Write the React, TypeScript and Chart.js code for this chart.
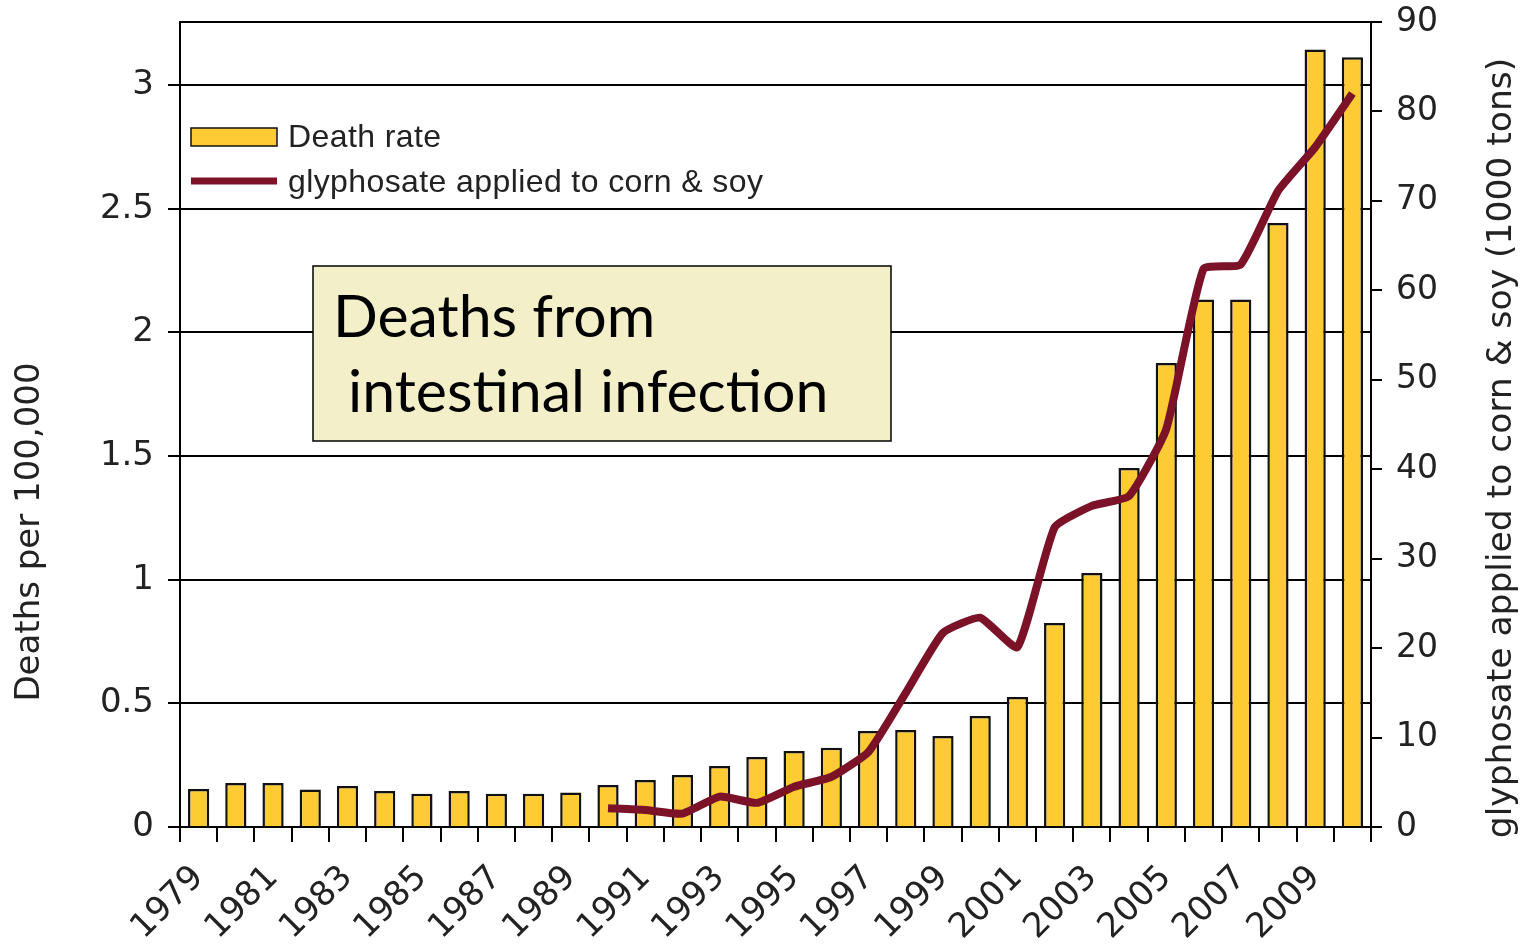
import React, { useEffect, useRef } from 'react';
import { Chart, registerables } from 'chart.js';

Chart.register(...registerables);

const years = [
  '1979', '1980', '1981', '1982', '1983', '1984', '1985', '1986', '1987', '1988',
  '1989', '1990', '1991', '1992', '1993', '1994', '1995', '1996', '1997', '1998',
  '1999', '2000', '2001', '2002', '2003', '2004', '2005', '2006', '2007', '2008',
  '2009', '2010',
];

const deathRate = [
  0.154, 0.178, 0.178, 0.152, 0.166, 0.146, 0.134, 0.146, 0.134, 0.134,
  0.14, 0.17, 0.19, 0.21, 0.247, 0.283, 0.307, 0.32, 0.388, 0.392,
  0.368, 0.449, 0.526, 0.825, 1.027, 1.452, 1.876, 2.133, 2.133, 2.442,
  3.144, 3.112,
];

const glyphosate = [
  null, null, null, null, null, null, null, null, null, null,
  null, 2.1, 1.9, 1.5, 3.4, 2.7, 4.5, 5.6, 8.4, 15.0,
  21.7, 23.4, 20.1, 33.5, 35.9, 37.0, 44.5, 62.4, 62.9, 71.1,
  76.0, 82.0,
];

const leftTicks = ['0', '0.5', '1', '1.5', '2', '2.5', '3'];

const barLabel = 'Death rate';
const lineLabel = 'glyphosate applied to corn & soy';
const leftTitle = 'Deaths per 100,000';
const rightTitle = 'glyphosate applied to corn & soy (1000 tons)';
const boxLines = ['Deaths from', ' intestinal infection'];

const BAR_COLOR = '#FFCB35';
const LINE_COLOR = '#7B1227';
const TEXT_COLOR = '#222222';

const overlayPlugin = {
  id: 'overlay',
  afterDatasetsDraw(chart: any) {
    const { ctx, chartArea } = chart;
    const ca = chartArea;
    ctx.save();

    // top frame line
    ctx.strokeStyle = '#000';
    ctx.lineWidth = 2;
    ctx.beginPath();
    ctx.moveTo(ca.left, ca.top);
    ctx.lineTo(ca.right, ca.top);
    ctx.stroke();

    // legend
    const lx = ca.left + 11;
    const sw = 86;
    ctx.fillStyle = BAR_COLOR;
    ctx.fillRect(lx, 128, sw, 18);
    ctx.strokeStyle = '#111';
    ctx.lineWidth = 1.5;
    ctx.strokeRect(lx, 128, sw, 18);

    ctx.strokeStyle = LINE_COLOR;
    ctx.lineWidth = 7;
    ctx.beginPath();
    ctx.moveTo(lx, 181);
    ctx.lineTo(lx + sw, 181);
    ctx.stroke();

    ctx.fillStyle = TEXT_COLOR;
    ctx.font = '32px "Liberation Sans", Arial, sans-serif';
    try {
      (ctx as any).letterSpacing = '0.4px';
    } catch (e) {
      /* ignore */
    }
    ctx.textBaseline = 'middle';
    ctx.textAlign = 'left';
    ctx.fillText(barLabel, 288, 138);
    ctx.fillText(lineLabel, 288, 183);
    try {
      (ctx as any).letterSpacing = '0px';
    } catch (e) {
      /* ignore */
    }

    // annotation box
    const bx = ca.left + 133;
    const by = ca.top + 244;
    const bw = 578;
    const bh = 175;
    ctx.fillStyle = '#F3EFC9';
    ctx.fillRect(bx, by, bw, bh);
    ctx.strokeStyle = '#000';
    ctx.lineWidth = 1.5;
    ctx.strokeRect(bx, by, bw, bh);
    ctx.fillStyle = '#000';
    ctx.font = '59px Lato, "Open Sans", sans-serif';
    ctx.textBaseline = 'alphabetic';
    ctx.fillText(boxLines[0], bx + 20, by + 71);
    ctx.fillText(boxLines[1], bx + 20, by + 146);

    // axis titles
    ctx.fillStyle = TEXT_COLOR;
    ctx.textAlign = 'center';
    ctx.textBaseline = 'middle';
    ctx.font = '34px "DejaVu Sans", sans-serif';
    ctx.save();
    ctx.translate(30, 532);
    ctx.rotate(-Math.PI / 2);
    ctx.fillText(leftTitle, 0, 0);
    ctx.restore();

    ctx.font = '34.5px "DejaVu Sans", sans-serif';
    ctx.save();
    ctx.translate(1502, 448);
    ctx.rotate(-Math.PI / 2);
    ctx.fillText(rightTitle, 0, 0);
    ctx.restore();

    ctx.restore();
  },
};

export default function App() {
  const canvasRef = useRef<HTMLCanvasElement | null>(null);

  useEffect(() => {
    document.body.style.margin = '0';
    const canvas = canvasRef.current;
    if (!canvas) return;
    const chart = new Chart(canvas, {
      type: 'bar',
      data: {
        labels: years,
        datasets: [
          {
            type: 'line',
            label: lineLabel,
            data: glyphosate as any,
            yAxisID: 'y1',
            borderColor: LINE_COLOR,
            backgroundColor: LINE_COLOR,
            borderWidth: 8,
            pointRadius: 0,
            tension: 0.15,
            spanGaps: false,
            order: 0,
          } as any,
          {
            type: 'bar',
            label: barLabel,
            data: deathRate,
            yAxisID: 'y',
            backgroundColor: BAR_COLOR,
            borderColor: '#111',
            borderWidth: 2.5,
            barPercentage: 0.57,
            categoryPercentage: 1,
            order: 1,
          },
        ],
      },
      options: {
        responsive: false,
        animation: false,
        devicePixelRatio: 1,
        layout: { padding: { top: 22, left: 0, right: 0, bottom: 0 } },
        plugins: {
          legend: { display: false },
          tooltip: { enabled: false },
        },
        scales: {
          x: {
            grid: {
              drawOnChartArea: false,
              drawTicks: true,
              tickLength: 15,
              color: '#000',
              lineWidth: 2,
              offset: true,
            },
            border: { color: '#000', width: 2 },
            ticks: {
              autoSkip: false,
              maxRotation: 45,
              minRotation: 45,
              padding: 16,
              color: TEXT_COLOR,
              font: { family: '"DejaVu Sans", sans-serif', size: 34 },
              callback: (_v: any, i: number) => (i % 2 === 0 ? years[i] : ''),
            },
            afterFit: (s: any) => {
              s.height = 119;
              s.paddingLeft = 0;
              s.paddingRight = 0;
            },
          },
          y: {
            position: 'left',
            min: 0,
            max: 3.255,
            grid: { color: '#000', lineWidth: 2, tickLength: 12, drawTicks: true },
            border: { color: '#000', width: 2 },
            ticks: {
              stepSize: 0.5,
              includeBounds: false,
              padding: 14,
              color: TEXT_COLOR,
              font: { family: '"DejaVu Sans", sans-serif', size: 34 },
              callback: (v: any) => {
                const idx = Math.round(Number(v) * 2);
                return leftTicks[idx] ?? '';
              },
            },
            afterBuildTicks: (s: any) => {
              s.ticks = s.ticks.filter((t: any) => t.value <= 3.0001);
            },
            afterFit: (s: any) => {
              s.width = 180;
              s.paddingTop = 0;
              s.paddingBottom = 0;
            },
          },
          y1: {
            position: 'right',
            min: 0,
            max: 90,
            grid: { drawOnChartArea: false, color: '#000', lineWidth: 2, tickLength: 11, drawTicks: true },
            border: { color: '#000', width: 2 },
            ticks: {
              stepSize: 10,
              padding: 14,
              color: TEXT_COLOR,
              font: { family: '"DejaVu Sans", sans-serif', size: 33 },
            },
            afterFit: (s: any) => {
              s.width = 154;
              s.paddingTop = 0;
              s.paddingBottom = 0;
            },
          },
        },
      },
      plugins: [overlayPlugin],
    });
    return () => chart.destroy();
  }, []);

  return (
    <div style={{ position: 'absolute', left: 0, top: 0, width: 1525, height: 946, background: '#fff' }}>
      <canvas ref={canvasRef} width={1525} height={946} style={{ width: 1525, height: 946, display: 'block' }} />
    </div>
  );
}
